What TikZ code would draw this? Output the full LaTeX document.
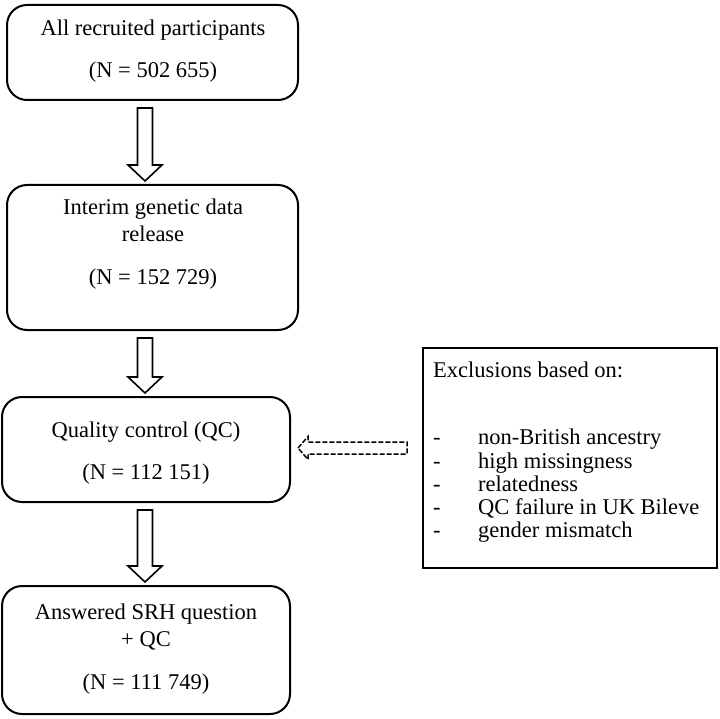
\documentclass[tikz,border=0pt]{standalone}
\usepackage{fontspec}
\setmainfont{Liberation Serif}
\usetikzlibrary{calc}
\newcommand\downblk[2]{%
  \draw[blk] ($(ax |- #1.south)+(-7.5,7)$) -- ($(ax |- #2.north)+(-7.5,-19)$)
    -- ($(ax |- #2.north)+(-17,-19)$) -- ($(ax |- #2.north)+(0,-3)$)
    -- ($(ax |- #2.north)+(17,-19)$) -- ($(ax |- #2.north)+(7.5,-19)$)
    -- ($(ax |- #1.south)+(7.5,7)$) -- cycle;}
\begin{document}
\begin{tikzpicture}[x=1pt,y=-1pt,
  box/.style={draw, line width=2pt, rounded corners=20pt, inner sep=0pt},
  sqbox/.style={draw, line width=2pt, inner sep=0pt},
  txt/.style={font=\fontsize{22.5}{27}\selectfont, align=center, inner sep=0pt},
  extxt/.style={font=\fontsize{22.5}{23.3}\selectfont, align=left, inner sep=0pt},
  blk/.style={draw, line width=1.6pt, fill=white, line join=miter},
  dblk/.style={draw, line width=1.5pt, fill=white, dash pattern=on 5pt off 2pt}]
\useasboundingbox (0,0) rectangle (720,719);
\coordinate (ax) at (145,0);
% boxes
\node[box, minimum width=291pt, minimum height=95pt] (b1) at (152.5,52.5) {};
\node[box, minimum width=291pt, minimum height=145pt] (b2) at (152.5,257.5) {};
\node[box, minimum width=288pt, minimum height=105pt] (b3) at (146,449.5) {};
\node[box, minimum width=288pt, minimum height=128pt] (b4) at (146,650) {};
\node[sqbox, minimum width=294pt, minimum height=220pt] (ex) at (570,458) {};
% texts
\node[txt] (t1) at (153,51) {All recruited participants\\[15pt](N = 502 655)};
\node[txt] (t2) at (153,244) {Interim genetic data\\release\\[16pt](N = 152 729)};
\node[txt] (t3) at (146,453) {Quality control (QC)\\[15pt](N = 112 151)};
\node[txt] (t4) at (146,649) {Answered SRH question\\+ QC\\[16pt](N = 111 749)};
\node[extxt, anchor=west] (t5) at (433,452.5) {Exclusions based on:\\[43.7pt]
  \makebox[45pt][l]{-}non-British ancestry\\
  \makebox[45pt][l]{-}high missingness\\
  \makebox[45pt][l]{-}relatedness\\
  \makebox[45pt][l]{-}QC failure in UK Bileve\\
  \makebox[45pt][l]{-}gender mismatch};
% block arrows
\downblk{b1}{b2}
\downblk{b2}{b3}
\downblk{b3}{b4}
% dashed block arrow
\coordinate (dt) at ($(b3.east)+(7,-1.5)$);
\coordinate (de) at ($(ex.west |- dt)+(-15,0)$);
\draw[dblk] (dt) -- ($(dt)+(10,-11.5)$) -- ($(dt)+(10,-6)$) -- ($(de)+(0,-6)$)
  -- ($(de)+(0,6)$) -- ($(dt)+(10,6)$) -- ($(dt)+(10,11.5)$) -- cycle;
\end{tikzpicture}
\end{document}
